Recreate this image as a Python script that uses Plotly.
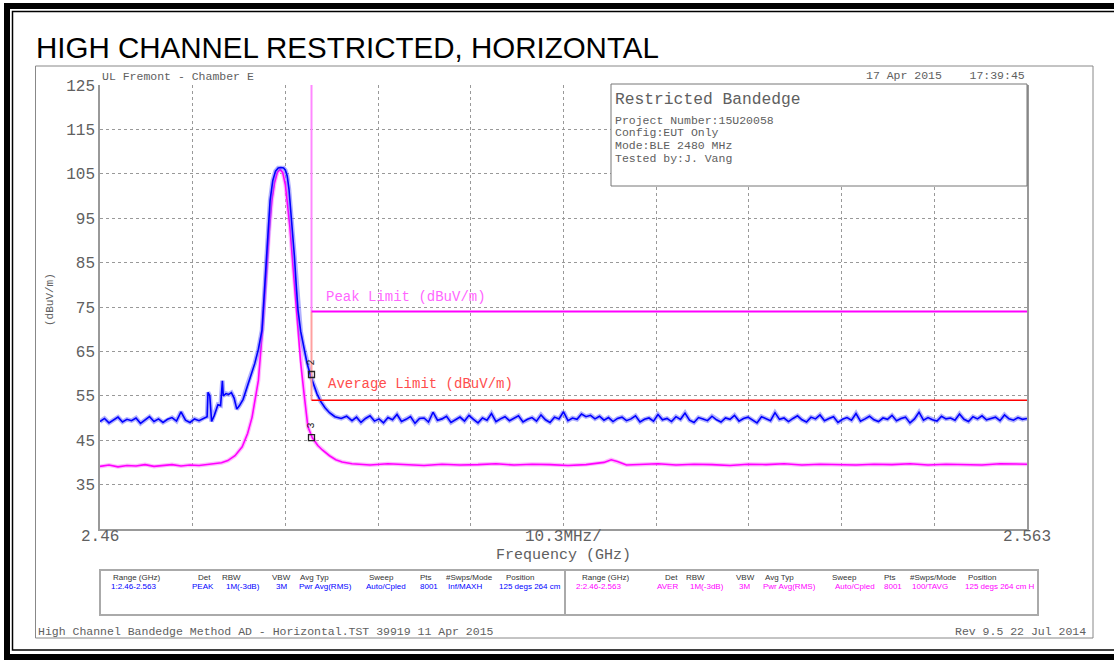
import plotly.graph_objects as go

# ---------------- data ----------------
F_START, F_STOP = 2.460, 2.563
Y_MIN, Y_MAX = 25, 125
y_tick_vals = [35, 45, 55, 65, 75, 85, 95, 105, 115, 125]
y_tick_text = ["35", "45", "55", "65", "75", "85", "95", "105", "115", "125"]
x_div_vals = [2.4703, 2.4806, 2.4909, 2.5012, 2.5115, 2.5218, 2.5321, 2.5424, 2.5527]
x_labels = ["2.46", "10.3MHz/", "2.563"]

SWEEP_STEP = 0.0005  # sample spacing of the flat noise-floor stretches (GHz)

# Peak (blue) trace -- left noise floor (sampled from 2.460)
pk_left_db = [49.2, 49.9, 48.9, 49.6, 50.2, 49.1, 49.7, 49.4, 50.0, 48.8, 49.6, 50.3,
              49.2, 49.8, 49.0, 49.7, 50.1, 49.3, 51.4, 49.5, 49.0, 49.8, 49.4, 50.0]
pk_left_start = 2.460
# Peak trace -- spur cluster and main lobe
pk_mid_f = [2.4719, 2.4720, 2.4722, 2.4724, 2.4727, 2.4731, 2.4734, 2.4736, 2.4737, 2.4740,
            2.4743, 2.4746, 2.4749, 2.4752, 2.4755, 2.4759, 2.4764, 2.4768, 2.4772, 2.4776, 2.4780,
            2.4782, 2.4784, 2.4786, 2.4789, 2.4792, 2.4795, 2.4798, 2.4801, 2.4804, 2.4806, 2.4808,
            2.4810, 2.4812, 2.4814, 2.4816, 2.4818, 2.4820, 2.4823, 2.4826, 2.4830, 2.4834, 2.4837,
            2.4841, 2.4845, 2.4850, 2.4855, 2.4861, 2.4868, 2.4874]
pk_mid_db = [50.3, 55.8, 55.0, 49.2, 50.6, 53.0, 52.8, 58.4, 55.0, 55.5,
             55.3, 55.7, 54.5, 52.0, 52.8, 54.2, 57.6, 59.8, 62.3, 65.5, 69.8,
             76.0, 83.0, 90.5, 99.0, 103.5, 105.6, 106.3, 106.4, 106.3, 105.8, 104.5,
             101.5, 96.5, 92.0, 86.5, 80.0, 74.3, 69.5, 66.2, 62.4, 59.5, 57.8,
             55.5, 53.8, 52.3, 51.2, 50.3, 49.9, 50.4]
# Peak trace -- right noise floor (sampled from 2.488)
pk_right_start = 2.488
pk_right_db = [49.4, 50.2, 49.0, 49.9, 50.5, 49.3, 49.8, 48.9, 50.1, 49.6,
               50.8, 49.2, 49.7, 50.3, 48.8, 49.9, 50.0, 49.1, 51.3, 49.5,
               49.8, 50.4, 49.0, 49.6, 50.2, 49.3, 50.6, 49.7, 48.9, 50.0,
               49.5, 51.0, 49.2, 49.8, 50.3, 49.4, 49.9, 50.5, 49.1, 49.7,
               50.1, 49.3, 50.7, 49.6, 49.0, 50.2, 49.8, 51.4, 49.4, 50.0,
               49.7, 50.9, 50.3, 50.6, 49.8, 50.4, 49.5, 50.1, 49.2, 49.9,
               50.2, 49.4, 49.8, 50.5, 49.1, 49.7, 50.0, 49.3, 50.8, 49.6,
               49.9, 49.2, 50.3, 49.7, 51.1, 49.5, 49.0, 50.1, 49.8, 49.4,
               50.4, 49.6, 49.1, 50.0, 49.7, 50.6, 49.3, 49.9, 50.2, 49.5,
               48.9, 50.3, 49.8, 49.4, 51.2, 49.7, 50.0, 49.2, 49.9, 50.5,
               49.6, 49.1, 50.2, 49.8, 50.7, 49.4, 49.9, 50.3, 49.0, 49.7,
               50.1, 49.5, 51.0, 49.3, 49.8, 50.4, 49.6, 49.2, 50.0, 49.7,
               50.6, 49.4, 49.9, 50.2, 48.9, 49.8, 51.3, 49.5, 50.1, 49.6,
               49.3, 50.4, 49.8, 50.0, 49.5, 50.9, 49.7, 49.2, 50.3, 49.8,
               50.5, 49.6, 49.9, 50.2, 49.4, 50.7, 49.8, 49.5, 50.1, 49.7,
               49.9]

# Average (magenta) trace
av_left_f = [2.460, 2.461, 2.462, 2.463, 2.464, 2.465, 2.466, 2.467, 2.468, 2.469, 2.470, 2.471,
             2.472, 2.4735, 2.4742, 2.4750, 2.4758,
             2.4764, 2.4769, 2.4773, 2.4776, 2.4779, 2.4782, 2.4785, 2.4788, 2.4791, 2.4794,
             2.4797, 2.4800, 2.4803, 2.4806, 2.4808, 2.4811, 2.4813, 2.4816, 2.4818, 2.4821,
             2.4823, 2.4827, 2.4831, 2.4836, 2.4842, 2.4847, 2.4855, 2.4862, 2.4869, 2.4880]
av_left_db = [39.1, 39.4, 39.0, 39.3, 39.2, 39.5, 39.1, 39.3, 39.5, 39.2, 39.4, 39.3,
              39.6, 39.9, 40.4, 41.5, 43.5,
              46.5, 50.2, 54.5, 58.5, 66.0, 73.5, 83.0, 92.0, 99.0, 103.0,
              105.3, 106.0, 105.3, 102.5, 99.0, 93.0, 87.8, 80.5, 74.3, 68.0,
              62.4, 55.0, 48.0, 45.5, 43.8, 42.8, 41.5, 40.6, 40.1, 39.7]
av_right_f = [2.490, 2.492, 2.494, 2.496, 2.498, 2.500, 2.502, 2.504, 2.506, 2.508, 2.510, 2.512,
              2.514, 2.5160, 2.5168, 2.5175, 2.5185,
              2.520, 2.522, 2.524, 2.526, 2.528, 2.530, 2.532, 2.534, 2.536, 2.538, 2.540, 2.542,
              2.544, 2.546, 2.548, 2.550, 2.552, 2.554, 2.556, 2.558, 2.560, 2.563]
av_right_db = [39.4, 39.7, 39.5, 39.3, 39.6, 39.4, 39.5, 39.7, 39.4, 39.6, 39.5, 39.3,
               39.5, 40.0, 40.6, 40.2, 39.4,
               39.5, 39.7, 39.4, 39.6, 39.5, 39.3, 39.6, 39.5, 39.7, 39.4, 39.6, 39.5,
               39.4, 39.6, 39.5, 39.7, 39.4, 39.6, 39.5, 39.4, 39.7, 39.6]

# Limits
band_edge = 2.4835
peak_limit = 74
avg_limit = 54

# markers at band edge
marker_db = [59.8, 45.6]
marker_ids = ["2", "3"]

# text content
title = "HIGH CHANNEL RESTRICTED, HORIZONTAL"
site = "UL Fremont - Chamber E"
stamp = "17 Apr 2015    17:39:45"
info_head = "Restricted Bandedge"
info_lines = ["Project Number:15U20058", "Config:EUT Only", "Mode:BLE 2480 MHz", "Tested by:J. Vang"]
footer_left = "High Channel Bandedge Method AD - Horizontal.TST 39919 11 Apr 2015"
footer_right = "Rev 9.5 22 Jul 2014"
tbl_head = ["Range (GHz)", "Det", "RBW", "VBW", "Avg Typ", "Sweep", "Pts", "#Swps/Mode", "Position"]
tbl_row1 = ["1:2.46-2.563", "PEAK", "1M(-3dB)", "3M", "Pwr Avg(RMS)", "Auto/Cpled", "8001", "Inf/MAXH", "125 degs 264 cm"]
tbl_row2 = ["2:2.46-2.563", "AVER", "1M(-3dB)", "3M", "Pwr Avg(RMS)", "Auto/Cpled", "8001", "100/TAVG", "125 degs 264 cm H"]

# ---------------- layout helpers ----------------
W, H = 1114, 661
def px(x):
    return x / W
def py(y):
    return 1 - y / H

PL, PR, PT, PB = 100, 1027, 85, 529
MONO = "Liberation Mono, DejaVu Sans Mono, monospace"
SANS = "Liberation Sans, Arial, sans-serif"
GRAYTXT = "#606060"

pk_f = ([round(pk_left_start + i * SWEEP_STEP, 4) for i in range(len(pk_left_db))] + pk_mid_f +
        [round(pk_right_start + i * SWEEP_STEP, 4) for i in range(len(pk_right_db))])
pk_db = pk_left_db + pk_mid_db + pk_right_db
av_f = av_left_f + av_right_f
av_db = av_left_db + av_right_db

fig = go.Figure()
fig.add_trace(go.Scatter(x=av_f, y=av_db, mode="lines", line=dict(color="rgba(255,120,255,0.5)", width=4),
                         hoverinfo="skip", showlegend=False))
fig.add_trace(go.Scatter(x=av_f, y=av_db, mode="lines", line=dict(color="#ff00ff", width=1.6),
                         hoverinfo="skip", showlegend=False))
fig.add_trace(go.Scatter(x=pk_f, y=pk_db, mode="lines", line=dict(color="rgba(100,100,255,0.5)", width=4.5),
                         hoverinfo="skip", showlegend=False))
fig.add_trace(go.Scatter(x=pk_f, y=pk_db, mode="lines", line=dict(color="#0000ff", width=1.6),
                         hoverinfo="skip", showlegend=False))

# limit lines
fig.add_trace(go.Scatter(x=[band_edge, band_edge], y=[Y_MAX, peak_limit], mode="lines",
                         line=dict(color="#ff88ff", width=2), hoverinfo="skip", showlegend=False))
fig.add_trace(go.Scatter(x=[band_edge, band_edge], y=[peak_limit, avg_limit], mode="lines",
                         line=dict(color="#ffa0a0", width=2), hoverinfo="skip", showlegend=False))
fig.add_trace(go.Scatter(x=[band_edge, F_STOP], y=[peak_limit, peak_limit], mode="lines",
                         line=dict(color="#ff00ff", width=2), hoverinfo="skip", showlegend=False))
fig.add_trace(go.Scatter(x=[band_edge, F_STOP], y=[avg_limit, avg_limit], mode="lines",
                         line=dict(color="#ff0000", width=1.6), hoverinfo="skip", showlegend=False))

# band-edge markers
fig.add_trace(go.Scatter(x=[band_edge, band_edge], y=marker_db, mode="markers",
                         marker=dict(symbol="square-open", size=6, color="#222", line=dict(width=1.3)),
                         hoverinfo="skip", showlegend=False))

ann = []
def text(x, y, s, size, color=GRAYTXT, family=MONO, xa="left", angle=0):
    ann.append(dict(x=px(x), y=py(y), xref="paper", yref="paper", text=s, showarrow=False,
                    xanchor=xa, yanchor="middle", textangle=angle,
                    font=dict(family=family, size=size, color=color)))

text(34, 47, title, 29.5, "#000000", SANS)
text(PL, 76, site, 11.5)
text(PR, 75, stamp, 11.5, xa="right")
text(613, 99, info_head, 16.3)
for i, s in enumerate(info_lines):
    text(613, 120 + i * 12.7, s, 11.5)
text(50, 300, "(dBuV/m)", 11, angle=-90, xa="center")
for xp, s in zip([PL, 564, PR], x_labels):
    text(xp, 537, s, 16, xa="center")
text(564, 555, "Frequency (GHz)", 15, xa="center")
text(324, 297, "Peak Limit (dBuV/m)", 14, "#ff66ff")
text(326, 384, "Average Limit (dBuV/m)", 14, "#ff4d4d")
text(36, 631, footer_left, 11.5)
text(1088, 631, footer_right, 11.5, xa="right")

# table
hx_l = [136, 204, 231, 282, 314, 382, 426, 469, 520]
dx_l = [133, 203, 243, 281, 325, 386, 429, 465, 530]
hx_r = [605, 671, 695, 745, 779, 844, 890, 933, 982]
dx_r = [598, 667, 707, 744, 789, 855, 893, 930, 1000]
for i in range(9):
    text(hx_l[i], 577, tbl_head[i], 8, "#333333", SANS, xa="center")
    text(hx_r[i], 577, tbl_head[i], 8, "#333333", SANS, xa="center")
    text(dx_l[i], 586, tbl_row1[i], 8, "#0000ff", SANS, xa="center")
    text(dx_r[i], 586, tbl_row2[i], 8, "#ff00ff", SANS, xa="center")

for yv, lab in zip(marker_db, marker_ids):
    ann.append(dict(x=band_edge, y=yv + 2.6, xref="x", yref="y", text=lab, showarrow=False,
                    textangle=-90, font=dict(family=MONO, size=10, color="#222")))

shapes = [
    dict(type="rect", xref="paper", yref="paper", x0=px(7), x1=px(1130), y0=py(6), y1=py(657),
         line=dict(color="#000000", width=6)),
    dict(type="rect", xref="paper", yref="paper", x0=px(12.5), x1=px(1130), y0=py(11.5), y1=py(650),
         line=dict(color="#000000", width=1.5)),
    dict(type="rect", xref="paper", yref="paper", x0=px(35.5), x1=px(1093), y0=py(66), y1=py(638),
         line=dict(color="#888888", width=1)),
    dict(type="rect", xref="paper", yref="paper", x0=px(611), x1=px(PR), y0=py(84), y1=py(186),
         line=dict(color="#777777", width=1), fillcolor="white", layer="above"),
    dict(type="rect", xref="paper", yref="paper", x0=px(100), x1=px(1038), y0=py(570), y1=py(615),
         line=dict(color="#aaaaaa", width=2)),
    dict(type="line", xref="paper", yref="paper", x0=px(565), x1=px(565), y0=py(570), y1=py(615),
         line=dict(color="#aaaaaa", width=2)),
]

fig.update_layout(
    width=W, height=H, margin=dict(l=0, r=0, t=0, b=0, pad=0, autoexpand=False),
    paper_bgcolor="white", plot_bgcolor="white",
    xaxis=dict(domain=[px(PL), px(PR)], range=[F_START, F_STOP], tickvals=x_div_vals,
               showticklabels=False, ticks="", showgrid=True, gridcolor="#999999", griddash="dot",
               gridwidth=1, zeroline=False, showline=True, linecolor="#999999", linewidth=1.5,
               automargin=False),
    yaxis=dict(domain=[py(PB), py(PT)], range=[Y_MIN, Y_MAX], tickvals=y_tick_vals, ticktext=y_tick_text,
               ticks="", showgrid=True, gridcolor="#999999", griddash="dot", gridwidth=1,
               zeroline=False, showline=True, mirror=True, linecolor="#999999", linewidth=1.5,
               tickfont=dict(family=MONO, size=16, color=GRAYTXT), automargin=False),
    annotations=ann, shapes=shapes,
)

fig.write_html("out.html", config={"displayModeBar": False},
               post_script="document.body.style.margin='0';document.body.style.overflow='hidden';")
